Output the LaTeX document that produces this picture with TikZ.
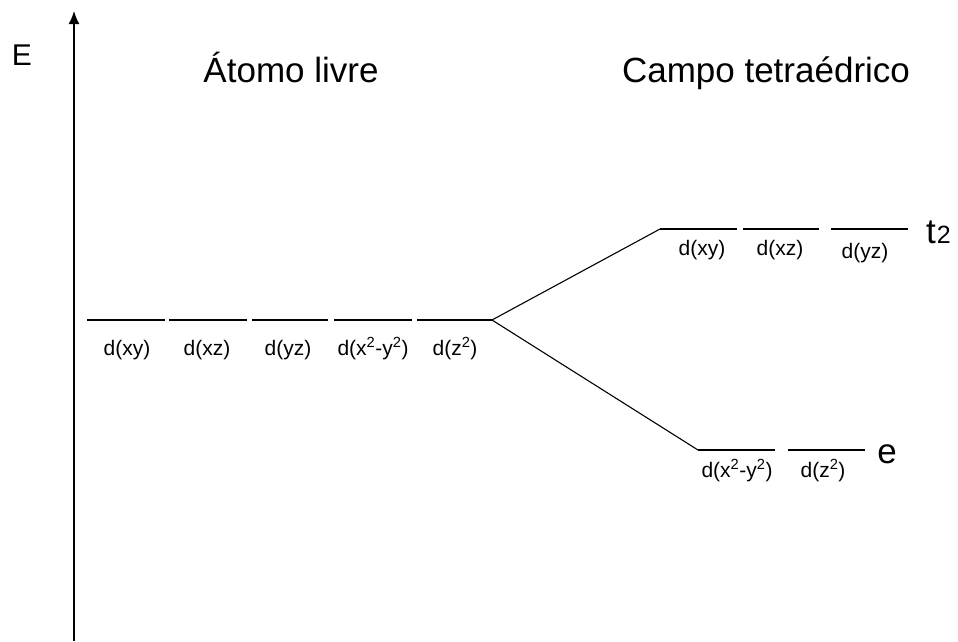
\documentclass[tikz,border=0pt]{standalone}
\usepackage{fontspec}
\setmainfont{Liberation Sans}
\usetikzlibrary{arrows.meta}
\begin{document}
\begin{tikzpicture}[x=1pt,y=-1pt,
  level/.style={line width=1.2pt},
  conn/.style={line width=1.1pt},
  lbl/.style={font=\fontsize{21}{24}\selectfont, anchor=base, inner sep=0pt},
  title/.style={font=\fontsize{35}{40}\selectfont, anchor=base, inner sep=0pt}]
\useasboundingbox (0,0) rectangle (958,641);
% axis
\coordinate (ax0) at (74,641);
\coordinate (ax1) at (74,11);
\draw[line width=1.6pt, -{Latex[length=13pt,width=11pt]}] (ax0) -- (ax1);
\node[font=\fontsize{30}{34}\selectfont, anchor=base, inner sep=0pt] (E) at (22,65) {E};
% titles
\node[title] (t1) at (291,82) {Átomo livre};
\node[title] (t2t) at (766,82) {Campo tetraédrico};
% free atom levels
\foreach \a/\b/\n in {87/165/1,169/247/2,252/328/3,334/412/4,417/492/5}{
  \coordinate (la\n) at (\a,320);
  \coordinate (lb\n) at (\b,320);
  \draw[level] (la\n) -- (lb\n);
}
\node[lbl] (l1) at (127,355) {d(xy)};
\node[lbl] (l2) at (207,355) {d(xz)};
\node[lbl] (l3) at (288,355) {d(yz)};
\node[lbl] (l4) at (373,355) {d(x\textsuperscript{2}-y\textsuperscript{2})};
\node[lbl] (l5) at (455,355) {d(z\textsuperscript{2})};
% t2 levels
\foreach \a/\b/\n in {660/737/1,743/819/2,831/908/3}{
  \coordinate (ua\n) at (\a,229);
  \coordinate (ub\n) at (\b,229);
  \draw[level] (ua\n) -- (ub\n);
}
\node[lbl] (u1) at (702,255) {d(xy)};
\node[lbl] (u2) at (780,255) {d(xz)};
\node[lbl] (u3) at (865,258) {d(yz)};
\node[anchor=base west, inner sep=0pt] (T2) at (926,243)
  {\fontsize{35}{40}\selectfont t\fontsize{25}{28}\selectfont\kern1pt 2};
% e levels
\foreach \a/\b/\n in {698/775/1,788/865/2}{
  \coordinate (da\n) at (\a,450);
  \coordinate (db\n) at (\b,450);
  \draw[level] (da\n) -- (db\n);
}
\node[lbl] (d1) at (737,477) {d(x\textsuperscript{2}-y\textsuperscript{2})};
\node[lbl] (d2) at (823,477) {d(z\textsuperscript{2})};
\node[font=\fontsize{35}{40}\selectfont, anchor=base, inner sep=0pt] (Ee) at (887,463) {e};
% connectors
\draw[conn] (lb5) -- (ua1);
\draw[conn] (lb5) -- (da1);
\end{tikzpicture}
\end{document}
